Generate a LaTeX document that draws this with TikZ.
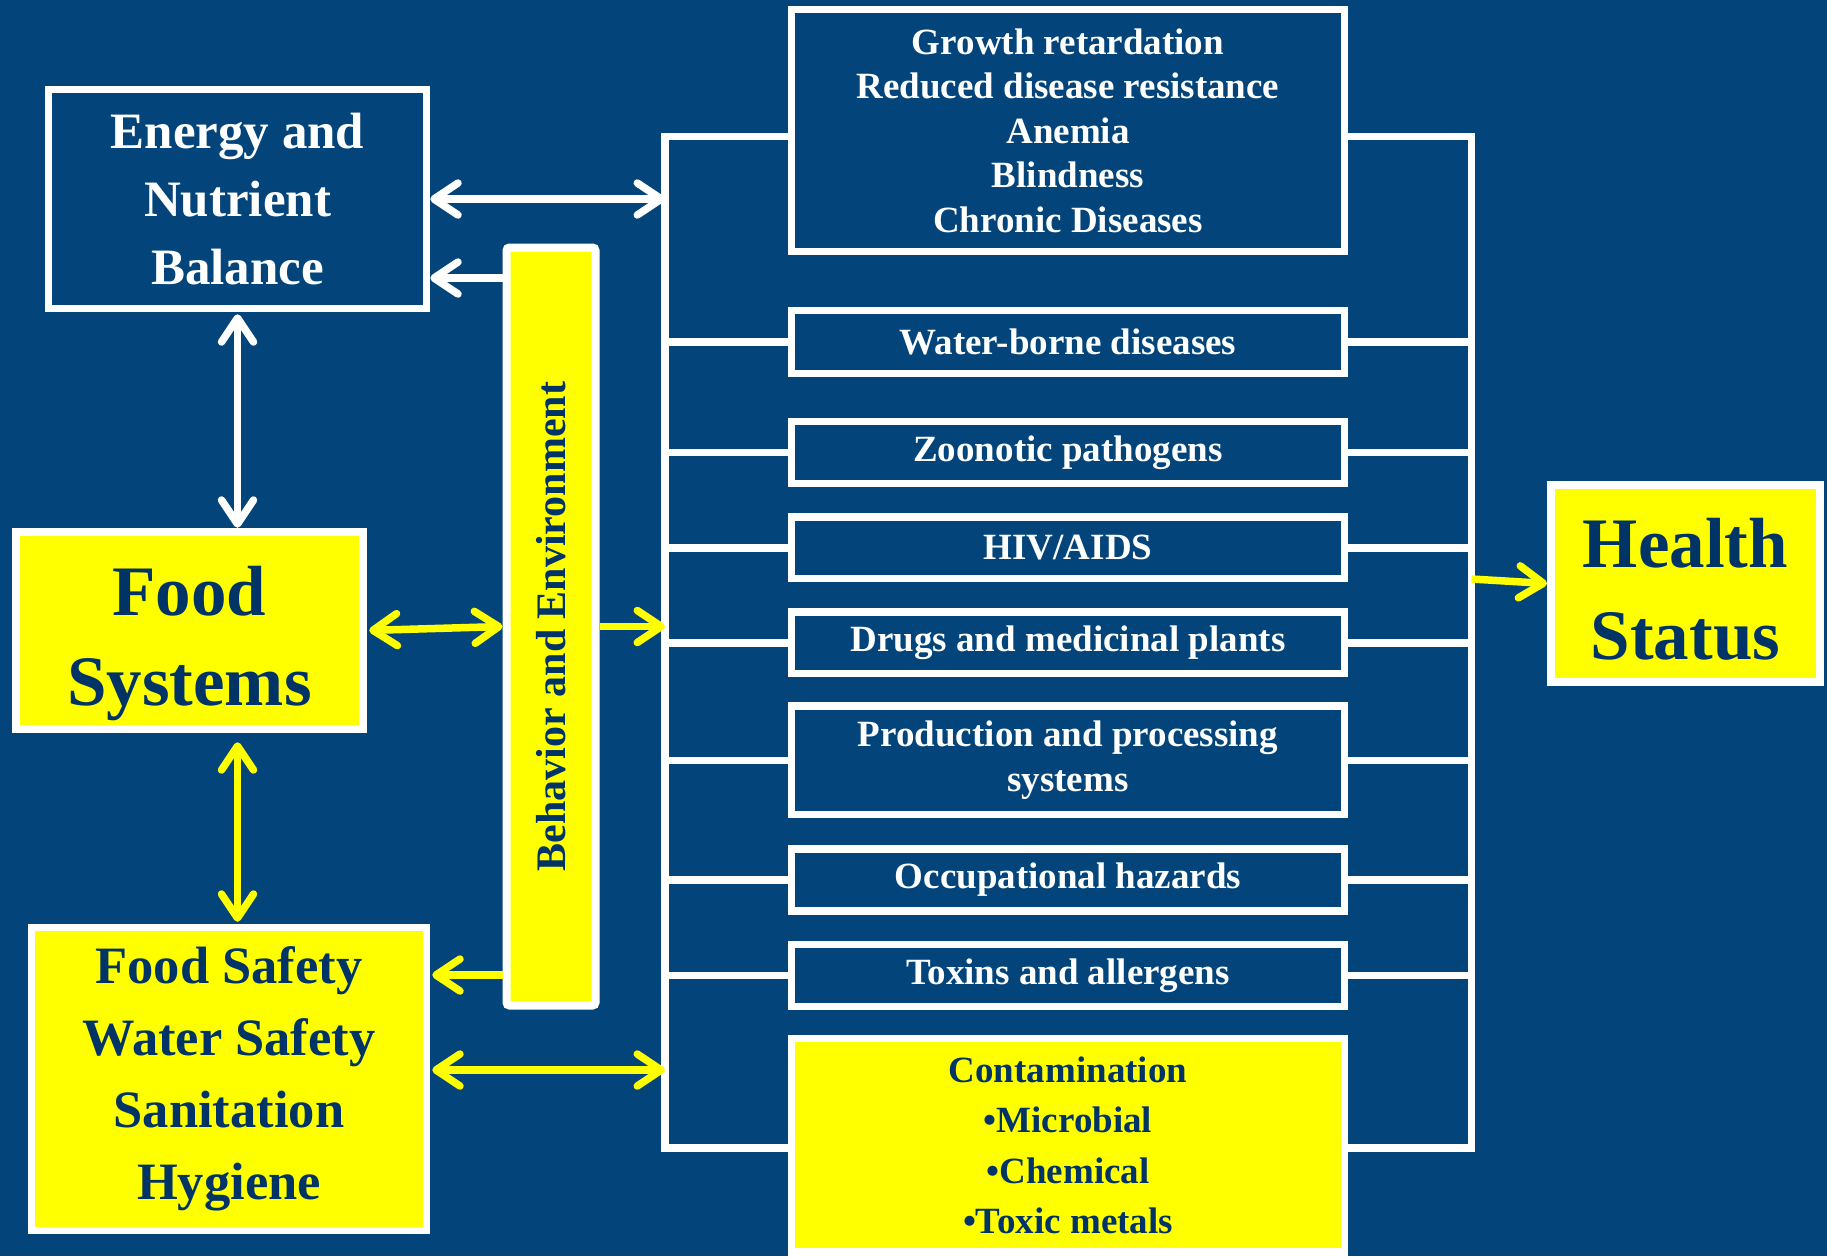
\documentclass[tikz,border=0pt]{standalone}
\usepackage{fontspec}
\setmainfont{Liberation Serif}
\usepackage{xcolor}
\usetikzlibrary{arrows.meta}

\definecolor{slide}{RGB}{3,69,122}
\definecolor{navy}{RGB}{0,51,102}
\definecolor{hilite}{RGB}{255,255,0}

\newcommand{\boxfont}[2]{\fontsize{#1}{#2}\selectfont\bfseries}

\begin{document}
\begin{tikzpicture}[x=1pt,y=-1pt,
		vbarb/.tip={Straight Barb[length=24pt,width=32pt,round]},
		warrow/.style={line width=7.5pt,white},
		yarrow/.style={line width=7.5pt,hilite}]
		\tikzset{set/.style={draw=white,line width=7.5pt,rectangle,inner sep=0pt,align=center}}
		\tikzset{blueset/.style={set,fill=slide,text=white}}
		\tikzset{yelset/.style={set,fill=hilite,text=navy}}
		\tikzset{wh/.style 2 args={minimum width=#1,minimum height=#2}}

		\useasboundingbox (0,0) rectangle (1827,1256);
		\fill[slide] (0,0) rectangle (1827,1256);

		% left column
		\node[blueset, wh={378pt}{219pt}, font=\boxfont{51}{68}] (energy) at (237.5,199) {Energy and\\Nutrient\\Balance};
		\node[yelset, wh={347pt}{197pt}, line width=8.5pt, font=\boxfont{71}{90}] (food) at (189.5,630.5) {\rule{0pt}{75pt}Food\\Systems};
		\node[yelset, wh={395pt}{303pt}, font=\boxfont{52.5}{72}] (safety) at (229,1079) {Food Safety\\Water Safety\\Sanitation\\Hygiene};

		% rotated: north is the left side, south the right side
		\node[yelset, wh={758pt}{89pt}, line width=8pt, rounded corners=3pt, rotate=90, font=\boxfont{42}{50}] (behav) at (551,626.5) {Behavior and Environment};

		% effects column
		\node[blueset, wh={553pt}{242pt}, font=\boxfont{37}{44.5}] (effects) at (1068,130.5) {Growth retardation\\Reduced disease resistance\\Anemia\\Blindness\\Chronic Diseases};
		\node[blueset, wh={553pt}{63pt}, font=\boxfont{37}{44}] (water) at (1068,342) {Water-borne diseases};
		\node[blueset, wh={553pt}{62pt}, font=\boxfont{37}{44}] (zoo) at (1068,452.5) {Zoonotic pathogens};
		\node[blueset, wh={553pt}{61.5pt}, font=\boxfont{37}{44}] (hiv) at (1068,547.75) {HIV/AIDS};
		\node[blueset, wh={553pt}{61.5pt}, font=\boxfont{37}{44}] (drugs) at (1068,642.75) {Drugs and medicinal plants};
		\node[blueset, wh={553pt}{108.5pt}, font=\boxfont{37}{45}] (prod) at (1068,760.25) {Production and processing\\systems};
		\node[blueset, wh={553pt}{62pt}, font=\boxfont{37}{44}] (occup) at (1068,880) {Occupational hazards};
		\node[blueset, wh={553pt}{62pt}, font=\boxfont{37}{44}] (toxins) at (1068,975.5) {Toxins and allergens};
		\node[yelset, wh={553pt}{213.5pt}, font=\boxfont{37}{50.6}] (contam) at (1068,1145.25) {Contamination\\•Microbial\\•Chemical\\•Toxic metals};

		\node[yelset, wh={269pt}{197pt}, line width=8pt, font=\boxfont{71}{92}] (health) at (1685.5,583.5) {\rule{0pt}{61pt}Health\\Status};

		% bracket corners and arrow rows
		\coordinate (brTL) at (665,136.5);
		\coordinate (brBL) at (665,1148);
		\coordinate (brTR) at (1471.5,136.5);
		\coordinate (brBR) at (1471.5,1148);
		\coordinate (rowA) at (0,278);
		\coordinate (rowC) at (0,975);
		\coordinate (rowD) at (0,1070);
		\coordinate (rowE) at (0,579);

		\draw[warrow] (effects.west |- brTL) -- (brTL) -- (brBL) -- (contam.west |- brBL);
		\draw[warrow] (effects.east |- brTR) -- (brTR) -- (brBR) -- (contam.east |- brBR);
		\foreach \n in {water,zoo,hiv,drugs,prod,occup,toxins}
			\draw[warrow] (\n.west) -- (\n.west -| brTL) (\n.east) -- (\n.east -| brTR);

		\draw[warrow,vbarb-vbarb] (energy.east) -- (energy.east -| brTL);
		\draw[warrow,-vbarb] (behav.north |- rowA) -- (energy.east |- rowA);
		\draw[warrow,vbarb-vbarb,shorten <=2pt] (energy.south) -- (energy.south |- food.north);

		\draw[yarrow,vbarb-vbarb,shorten <=2pt] (food.east) -- (behav.north);
		\draw[yarrow,-vbarb] (behav.south) -- (behav.south -| brTL);
		\draw[yarrow,vbarb-vbarb,shorten <=9pt,shorten >=2pt] (food.south -| energy.south) -- (safety.north -| energy.south);
		\draw[yarrow,-vbarb,shorten >=2pt] (behav.north |- rowC) -- (safety.east |- rowC);
		\draw[yarrow,vbarb-vbarb,shorten <=2pt] (safety.east |- rowD) -- (brTL |- rowD);
		\draw[yarrow,-vbarb] (brTR |- rowE) -- (health.west);
	\end{tikzpicture}
\end{document}
